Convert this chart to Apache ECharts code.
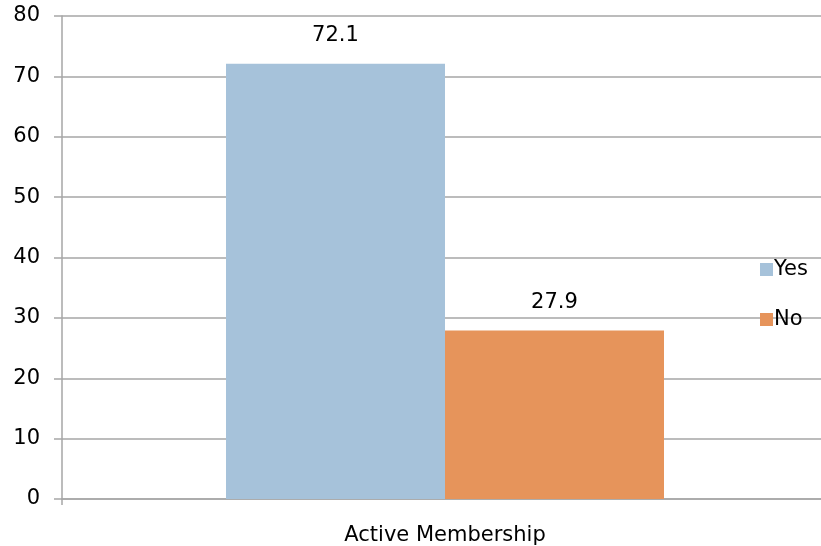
<!DOCTYPE html>
<html><head><meta charset="utf-8">
<script src="https://cdn.jsdelivr.net/npm/echarts@6/dist/echarts.min.js"></script>
<style>html,body{margin:0;padding:0;background:#fff;overflow:hidden;width:821px;height:546px}#c{width:828px;height:546px}</style>
</head><body><div id="c"></div>
<script>
var categories = ['Active Membership'];
var seriesNames = ['Yes', 'No'];
var yesValues = [72.1];
var noValues = [27.9];
var yTicks = [0, 10, 20, 30, 40, 50, 60, 70, 80];

var FONT = '"DejaVu Sans", sans-serif';
var chart = echarts.init(document.getElementById('c'), null, {renderer: 'canvas'});
chart.setOption({
  animation: false,
  backgroundColor: '#fff',
  textStyle: {fontFamily: FONT},
  grid: {left: 62, right: 0, top: 16, bottom: 45, containLabel: false},
  legend: {
    orient: 'vertical', left: 755, top: 254, itemWidth: 13, itemHeight: 13, itemGap: 29,
    icon: 'rect',
    textStyle: {fontFamily: FONT, fontSize: 21, color: '#000', padding: [0,0,0,-4]},
    data: seriesNames
  },
  xAxis: {
    type: 'category', data: categories,
    axisLine: {lineStyle: {color: '#a6a6a6', width: 1.5}},
    axisTick: {show: true, length: 6, lineStyle: {color: '#a6a6a6', width: 1.5}},
    axisLabel: {fontFamily: FONT, fontSize: 21, color: '#000', margin: 26}
  },
  yAxis: {
    type: 'value', min: yTicks[0], max: yTicks[yTicks.length-1], interval: 10,
    axisLine: {show: true, lineStyle: {color: '#a6a6a6', width: 1.5}},
    axisTick: {show: true, length: 8, lineStyle: {color: '#a6a6a6', width: 1.5}},
    splitLine: {lineStyle: {color: '#a6a6a6', width: 1.5}},
    axisLabel: {fontFamily: FONT, fontSize: 21, color: '#000', margin: 22}
  },
  series: [
    {name: seriesNames[0], type: 'bar', data: yesValues, barWidth: 219, barGap: '0%',
     itemStyle: {color: '#a6c2da'},
     label: {show: true, position: 'top', distance: 18, fontFamily: FONT, fontSize: 21, color: '#000'}},
    {name: seriesNames[1], type: 'bar', data: noValues, barWidth: 219, barGap: '0%',
     itemStyle: {color: '#e6945b'},
     label: {show: true, position: 'top', distance: 18, fontFamily: FONT, fontSize: 21, color: '#000'}}
  ]
});
</script></body></html>
